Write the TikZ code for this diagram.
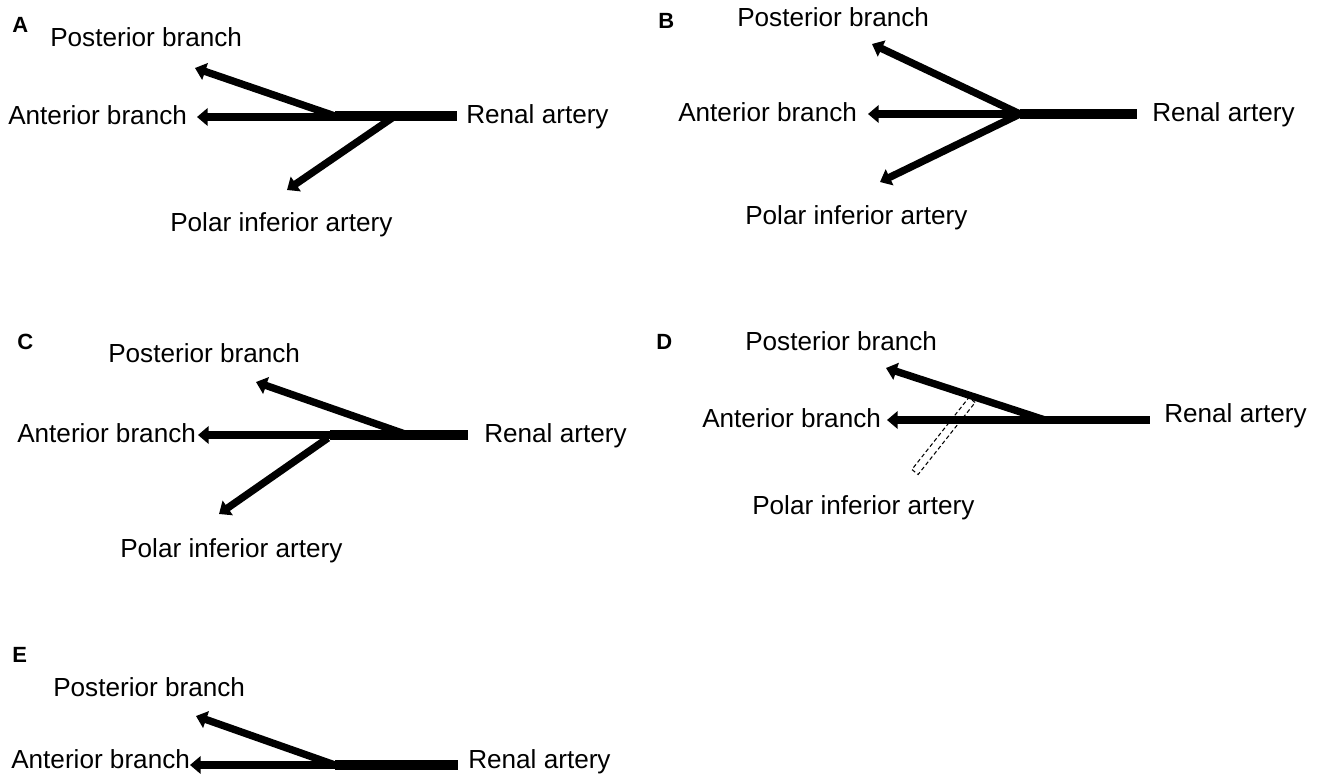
\documentclass[tikz,border=0pt]{standalone}
\usepackage{fontspec}
\setmainfont{Liberation Sans}
\usetikzlibrary{arrows.meta}
\begin{document}
\begin{tikzpicture}[x=0.75pt,y=-0.75pt,
 lbl/.style={anchor=base west, inner sep=0pt, font=\fontsize{19.6}{24}\selectfont},
 panel/.style={anchor=base west, inner sep=0pt, font=\fontsize{16.5}{18}\selectfont\bfseries},
 branch/.style={line width=5.5pt, -{Triangle[length=8pt,width=13pt]}},
 trunk/.style={line width=8pt},
 ghost/.style={line width=0.8pt, dash pattern=on 3pt off 2pt}]
\useasboundingbox (0,0) rectangle (1322,774);

% ---------- Panel A ----------
\node[panel] (pA) at (12,33) {A};
\node[lbl] (A-post) at (50,47) {Posterior branch};
\node[lbl] (A-ant) at (8,125) {Anterior branch};
\node[lbl] (A-ren) at (466,123) {Renal artery};
\node[lbl] (A-pol) at (170,231) {Polar inferior artery};
\coordinate (A-j1) at (335,116);
\coordinate (A-j2) at (395,116);
\coordinate (A-end) at (457,116);
\coordinate (A-antstart) at (355,117);
\coordinate (A-posttip) at (195,68);
\coordinate (A-anttip) at (197,117);
\coordinate (A-poltip) at (287,190);
\draw[trunk] (A-j1) -- (A-end);
\draw[branch] (A-antstart) -- (A-anttip);
\draw[branch] (A-j1) -- (A-posttip);
\draw[branch] (A-j2) -- (A-poltip);

% ---------- Panel B ----------
\node[panel] (pB) at (658,29) {B};
\node[lbl] (B-post) at (737,27) {Posterior branch};
\node[lbl] (B-ant) at (678,122) {Anterior branch};
\node[lbl] (B-ren) at (1152,122) {Renal artery};
\node[lbl] (B-pol) at (745,224) {Polar inferior artery};
\coordinate (B-j) at (1020,114);
\coordinate (B-end) at (1137,114);
\coordinate (B-posttip) at (872,44);
\coordinate (B-anttip) at (868,114);
\coordinate (B-poltip) at (880,182);
\draw[trunk] (B-j) -- (B-end);
\draw[branch] (B-j) -- (B-anttip);
\draw[branch] (B-j) -- (B-posttip);
\draw[branch] (B-j) -- (B-poltip);

% ---------- Panel C ----------
\node[panel] (pC) at (17,349) {C};
\node[lbl] (C-post) at (108,362) {Posterior branch};
\node[lbl] (C-ant) at (17,442) {Anterior branch};
\node[lbl] (C-ren) at (484,442) {Renal artery};
\node[lbl] (C-pol) at (120,557) {Polar inferior artery};
\coordinate (C-j1) at (330,435);
\coordinate (C-j2) at (405,434);
\coordinate (C-j3) at (328,438);
\coordinate (C-end) at (468,435);
\coordinate (C-posttip) at (256,382);
\coordinate (C-anttip) at (198,435);
\coordinate (C-poltip) at (219,514);
\draw[trunk] (C-j1) -- (C-end);
\draw[branch] (C-j1) -- (C-anttip);
\draw[branch] (C-j2) -- (C-posttip);
\draw[branch] (C-j3) -- (C-poltip);

% ---------- Panel D ----------
\node[panel] (pD) at (656,349) {D};
\node[lbl] (D-post) at (745,350) {Posterior branch};
\node[lbl] (D-ant) at (702,427) {Anterior branch};
\node[lbl] (D-ren) at (1164,422) {Renal artery};
\node[lbl] (D-pol) at (752,514) {Polar inferior artery};
\coordinate (D-j) at (1045,420);
\coordinate (D-end) at (1150,420);
\coordinate (D-posttip) at (886,368);
\coordinate (D-anttip) at (887,420);
\draw[line width=6pt] (D-j) -- (D-end);
\draw[branch] (D-j) -- (D-anttip);
\draw[branch] (D-j) -- (D-posttip);
\draw[ghost] (975.1,402.5) -- (968.9,397.5) -- (911.9,469.5) -- (918.1,474.5) -- cycle;

% ---------- Panel E ----------
\node[panel] (pE) at (12,662) {E};
\node[lbl] (E-post) at (53,696) {Posterior branch};
\node[lbl] (E-ant) at (11,768) {Anterior branch};
\node[lbl] (E-ren) at (468,768) {Renal artery};
\coordinate (E-j) at (335,765);
\coordinate (E-antstart) at (340,765);
\coordinate (E-end) at (458,765);
\coordinate (E-posttip) at (196,716);
\coordinate (E-anttip) at (190,765);
\draw[trunk] (E-j) -- (E-end);
\draw[branch] (E-antstart) -- (E-anttip);
\draw[branch] (E-j) -- (E-posttip);
\end{tikzpicture}
\end{document}
